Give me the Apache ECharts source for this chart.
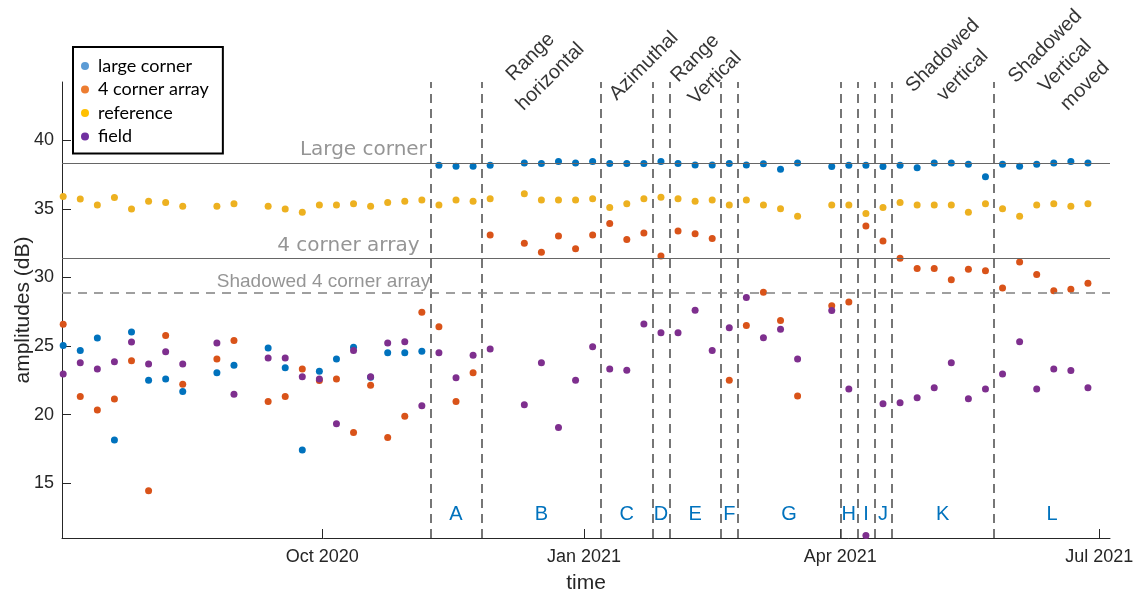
<!DOCTYPE html>
<html><head><meta charset="utf-8">
<script src="https://cdn.jsdelivr.net/npm/echarts@6.0.0/dist/echarts.min.js"></script>
<style>html,body{margin:0;padding:0;background:#fff}#c{width:1135px;height:592px}</style>
</head><body><div id="c"></div>
<script>
// acquisition dates (6-day revisit)
const dates = ['2020-07-02','2020-07-08','2020-07-14','2020-07-20','2020-07-26','2020-08-01','2020-08-07','2020-08-13','2020-08-19','2020-08-25',
'2020-08-31','2020-09-06','2020-09-12','2020-09-18','2020-09-24','2020-09-30','2020-10-06','2020-10-12','2020-10-18','2020-10-24',
'2020-10-30','2020-11-05','2020-11-11','2020-11-17','2020-11-23','2020-11-29','2020-12-05','2020-12-11','2020-12-17','2020-12-23',
'2020-12-29','2021-01-04','2021-01-10','2021-01-16','2021-01-22','2021-01-28','2021-02-03','2021-02-09','2021-02-15','2021-02-21',
'2021-02-27','2021-03-05','2021-03-11','2021-03-17','2021-03-23','2021-03-29','2021-04-04','2021-04-10','2021-04-16','2021-04-22',
'2021-04-28','2021-05-04','2021-05-10','2021-05-16','2021-05-22','2021-05-28','2021-06-03','2021-06-09','2021-06-15','2021-06-21','2021-06-27'];

const largeCorner = [25.04,24.68,25.58,18.14,26.02,22.51,22.59,21.69,null,23.05,
23.59,null,24.85,23.42,17.41,23.15,24.05,24.90,22.72,24.51,
24.51,24.61,38.18,38.10,38.10,38.18,null,38.35,38.30,38.45,
38.35,38.45,38.30,38.30,38.30,38.45,38.30,38.20,38.20,38.30,
38.20,38.28,37.88,38.35,null,38.08,38.18,38.18,38.08,38.18,
38.00,38.35,38.35,38.25,37.35,38.25,38.10,38.25,38.35,38.45,38.35];

const fourCornerArray = [26.58,21.32,20.33,21.13,23.93,14.44,25.77,22.22,null,24.05,
25.41,null,20.96,21.32,23.32,22.49,22.59,18.70,22.13,18.33,
19.87,27.47,26.40,20.96,23.05,33.09,null,32.49,31.83,33.02,
32.10,33.09,33.94,32.76,33.24,31.56,33.39,33.19,32.83,22.51,
26.50,28.92,26.86,21.35,null,27.94,28.20,33.75,32.65,31.39,
30.66,30.66,29.83,30.59,30.49,29.23,31.12,30.22,29.03,29.13,29.57];

const reference = [35.91,35.72,35.28,35.82,34.99,35.55,35.46,35.19,null,35.19,
35.38,null,35.19,34.99,34.75,35.28,35.28,35.38,35.19,35.46,
35.55,35.64,35.28,35.64,35.55,35.74,null,36.11,35.64,35.64,
35.64,35.74,35.09,35.38,35.74,35.84,35.74,35.55,35.64,35.28,
35.64,35.28,35.01,34.46,null,35.28,35.28,34.67,35.09,35.46,
35.28,35.28,35.28,34.75,35.38,35.01,34.46,35.28,35.38,35.19,35.38];

const field = [22.95,23.78,23.32,23.86,25.29,23.69,24.58,23.69,null,25.21,
21.49,null,24.13,24.13,22.76,22.59,19.33,24.68,22.76,25.21,
25.31,20.64,24.51,22.69,24.32,24.78,null,20.72,23.78,19.06,
22.51,24.95,23.32,23.24,26.60,25.97,25.97,27.60,24.68,26.33,
28.53,25.60,26.22,24.05,null,27.58,21.86,11.18,20.79,20.86,
21.23,21.96,23.78,21.16,21.86,22.95,25.31,21.86,23.32,23.22,21.96];

const seriesNames = ['large corner','4 corner array','reference','field'];
const seriesColors = ['#0072BD','#D95319','#EDB120','#7E2F8E'];
const legendColors = ['#5B9BD5','#ED7D31','#FFC000','#7030A0'];

const dividers = ['2020-11-08','2020-11-26','2021-01-07','2021-01-25','2021-01-31','2021-02-18','2021-02-24',
'2021-04-01','2021-04-07','2021-04-13','2021-04-19','2021-05-25'];
const regionLabels = ['A','B','C','D','E','F','G','H','I','J','K','L'];

const xMin = '2020-07-01 14:00', xMax = '2021-07-04 18:00';
const xTicks = ['2020-10-01','2021-01-01','2021-04-01','2021-07-01'];
const yTicks = [15,20,25,30,35,40];
const yMin = 11, yMax = 44.25;

const refLineValues = [38.35, 31.4, 28.85];
const refLineNames = ['Large corner','4 corner array','Shadowed 4 corner array'];
const refLabelAnchors = [['2020-11-06 18:00',39.31],['2020-11-04 04:00',32.28],['2020-11-07 22:00',29.70]];

const topLabels = ['Range\nhorizontal','Azimuthal','Range\nVertical','Shadowed\nvertical','Shadowed\nVertical\nmoved'];
const topLabelAnchors = [['2020-12-16 16:00',45.35],['2021-01-22 00:00',45.42],['2021-02-12 12:00',45.25],['2021-05-10 12:00',45.45],['2021-06-19 00:00',45.40]];

const monthNames = ['Jan','Feb','Mar','Apr','May','Jun','Jul','Aug','Sep','Oct','Nov','Dec'];
function ts(s){
  const parts = s.split(' ');
  const ymd = parts[0].split('-').map(Number);
  let h=0, mi=0;
  if (parts[1]) { const hm = parts[1].split(':').map(Number); h=hm[0]; mi=hm[1]; }
  return Date.UTC(ymd[0], ymd[1]-1, ymd[2], h, mi);
}

const valueSets = [largeCorner, fourCornerArray, reference, field];
const FONT = '"Liberation Sans", Arial, sans-serif';

const series = valueSets.map((vals,i)=>({
  name: seriesNames[i], type:'scatter', symbol:'circle', symbolSize:7, clip:false,
  itemStyle:{color:seriesColors[i], opacity:1},
  data: dates.map((d,j)=> vals[j]==null ? null : [ts(d), vals[j]]).filter(p=>p),
  z: 3+i
}));

const bounds = dividers.map(ts).concat([ts(xMax)]);
series.push({
  name:'lines', type:'scatter', data:[], silent:true, z:1,
  markLine:{
    silent:true, symbol:['none','none'], animation:false,
    label:{show:false},
    data: dividers.map(d=>({xAxis:ts(d), lineStyle:{type:[9,6], color:'#4a4a4a', width:1.5}}))
      .concat([
        {yAxis:refLineValues[0], lineStyle:{type:'solid', color:'#666666', width:1.2}},
        {yAxis:refLineValues[1], lineStyle:{type:'solid', color:'#666666', width:1.2}},
        {yAxis:refLineValues[2], lineStyle:{type:[9,7], color:'#808080', width:1.6}}
      ])
  },
  markArea:{
    silent:true,
    itemStyle:{color:'rgba(0,0,0,0)'},
    label:{show:true, position:'inside', color:'#0072BD', fontFamily:FONT, fontSize:20},
    data: regionLabels.map((l,i)=>[{name:l, xAxis:bounds[i], yAxis:11}, {xAxis:bounds[i+1], yAxis:14.48}])
  }
});

const annot = [];
refLineNames.forEach((t,i)=>annot.push({
  name:t, value:[ts(refLabelAnchors[i][0]), refLabelAnchors[i][1]],
  label:{show:true, position:'inside', align:'right', verticalAlign:'middle',
    fontFamily: i<2 ? '"DejaVu Sans", sans-serif' : FONT, fontSize: i<2 ? 20 : 19, color:'#7a7a7a'}
}));
topLabels.forEach((t,i)=>annot.push({
  name:t, value:[ts(topLabelAnchors[i][0]), topLabelAnchors[i][1]],
  label:{show:true, position:'inside', align:'center', verticalAlign:'middle', rotate:45,
    fontFamily:FONT, fontSize:20, lineHeight:28, color:'#000'}
}));
series.push({
  name:'annotations', type:'scatter', symbolSize:1, clip:false, silent:true, z:10,
  itemStyle:{color:'rgba(255,255,255,0)'},
  label:{show:true, formatter:'{b}'},
  labelLayout:{hideOverlap:false},
  data: annot
});

const chart = echarts.init(document.getElementById('c'), null, {renderer:'canvas'});
chart.setOption({
  animation:false,
  backgroundColor:'#fff',
  grid:{left:62, right:25, top:82, bottom:54, containLabel:false, outerBoundsMode:'none'},
  legend:{
    orient:'vertical', left:73, top:47,
    data: seriesNames.map((n,i)=>({name:n, icon:'circle', itemStyle:{color:legendColors[i]}})),
    itemWidth:8, itemHeight:8, itemGap:5.5,
    padding:[10,14,8,8],
    borderColor:'#000', borderWidth:2, backgroundColor:'#fff',
    textStyle:{fontFamily:'Lato', fontSize:18, color:'#000', lineHeight:18, padding:[0,0,0,4]},
    selectedMode:false, z:20
  },
  xAxis:{
    type:'value', min:ts(xMin), max:ts(xMax), scale:true,
    name:'time', nameLocation:'middle', nameGap:35, nameMoveOverlap:false,
    nameTextStyle:{fontFamily:FONT, fontSize:21, color:'#262626'},
    axisLine:{show:true, lineStyle:{color:'#262626', width:1}},
    axisTick:{show:true, inside:true, length:9, customValues:xTicks.map(ts), lineStyle:{color:'#262626'}},
    axisLabel:{show:true, margin:10, customValues:xTicks.map(ts), fontFamily:FONT, fontSize:18, color:'#262626',
      formatter:(v)=>{const d=new Date(v); return monthNames[d.getUTCMonth()]+' '+d.getUTCFullYear();}},
    splitLine:{show:false}, minorTick:{show:false}
  },
  yAxis:{
    type:'value', min:yMin, max:yMax,
    name:'amplitudes (dB)', nameLocation:'middle', nameGap:28, nameMoveOverlap:false,
    nameTextStyle:{fontFamily:FONT, fontSize:21, color:'#262626'},
    axisLine:{show:true, lineStyle:{color:'#262626', width:1}},
    axisTick:{show:true, inside:true, length:9, customValues:yTicks, lineStyle:{color:'#262626'}},
    axisLabel:{show:true, margin:8, customValues:yTicks, fontFamily:FONT, fontSize:18, color:'#262626'},
    splitLine:{show:false}
  },
  series: series
});
</script>
</body></html>
